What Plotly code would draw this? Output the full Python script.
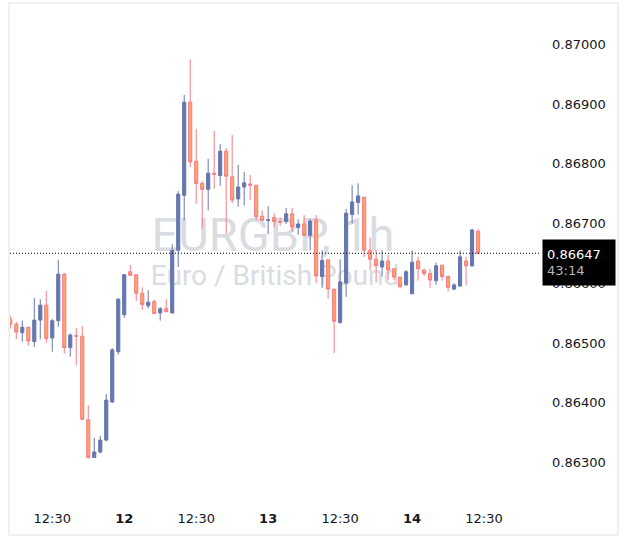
import pandas as pd
import plotly.graph_objects as go

# ---------------- data (EURGBP, 1h) ----------------
start_time = "2024-06-11 05:30"
n_bars = 79

open_ = [0.86537, 0.86528, 0.86514, 0.86523, 0.86499, 0.86535, 0.86560, 0.86505, 0.86534, 0.86612,
         0.86489, 0.86509, 0.86508, 0.86368, 0.86305, 0.86314, 0.86334, 0.86398, 0.86482, 0.86544,
         0.86616, 0.86611, 0.86580, 0.86559, 0.86566, 0.86547, 0.86554, 0.86547, 0.86652, 0.86744,
         0.86900, 0.86801, 0.86764, 0.86754, 0.86781, 0.86777, 0.86818, 0.86775, 0.86738, 0.86758,
         0.86763, 0.86761, 0.86709, 0.86702, 0.86707, 0.86700, 0.86700, 0.86713, 0.86690, 0.86696,
         0.86677, 0.86703, 0.86608, 0.86636, 0.86587, 0.86531, 0.86597, 0.86712, 0.86732, 0.86741,
         0.86652, 0.86637, 0.86624, 0.86634, 0.86621, 0.86607, 0.86594, 0.86579, 0.86634, 0.86619,
         0.86613, 0.86601, 0.86627, 0.86608, 0.86587, 0.86592, 0.86634, 0.86626, 0.86684]
high = [0.86542, 0.86532, 0.86534, 0.86524, 0.86572, 0.86570, 0.86584, 0.86537, 0.86636, 0.86614,
        0.86513, 0.86522, 0.86525, 0.86392, 0.86338, 0.86341, 0.86411, 0.86488, 0.86572, 0.86612,
        0.86627, 0.86611, 0.86590, 0.86585, 0.86569, 0.86557, 0.86570, 0.86662, 0.86751, 0.86912,
        0.86972, 0.86855, 0.86768, 0.86805, 0.86852, 0.86830, 0.86823, 0.86845, 0.86795, 0.86783,
        0.86778, 0.86761, 0.86719, 0.86726, 0.86714, 0.86707, 0.86723, 0.86723, 0.86704, 0.86711,
        0.86704, 0.86711, 0.86652, 0.86636, 0.86587, 0.86637, 0.86721, 0.86761, 0.86764, 0.86741,
        0.86673, 0.86652, 0.86652, 0.86644, 0.86621, 0.86607, 0.86619, 0.86652, 0.86641, 0.86621,
        0.86621, 0.86631, 0.86627, 0.86610, 0.86597, 0.86652, 0.86641, 0.86688, 0.86688]
low = [0.86521, 0.86503, 0.86499, 0.86492, 0.86490, 0.86503, 0.86497, 0.86482, 0.86524, 0.86479,
       0.86474, 0.86459, 0.86367, 0.86303, 0.86304, 0.86312, 0.86332, 0.86396, 0.86477, 0.86539,
       0.86610, 0.86567, 0.86552, 0.86555, 0.86546, 0.86534, 0.86549, 0.86546, 0.86624, 0.86702,
       0.86791, 0.86730, 0.86688, 0.86719, 0.86755, 0.86760, 0.86680, 0.86731, 0.86725, 0.86727,
       0.86736, 0.86702, 0.86702, 0.86679, 0.86690, 0.86693, 0.86696, 0.86683, 0.86678, 0.86675,
       0.86652, 0.86597, 0.86589, 0.86571, 0.86480, 0.86529, 0.86574, 0.86697, 0.86712, 0.86641,
       0.86619, 0.86598, 0.86608, 0.86602, 0.86602, 0.86588, 0.86593, 0.86579, 0.86601, 0.86609,
       0.86589, 0.86594, 0.86601, 0.86583, 0.86585, 0.86591, 0.86593, 0.86624, 0.86645]
close = [0.86528, 0.86515, 0.86523, 0.86500, 0.86535, 0.86560, 0.86504, 0.86534, 0.86612, 0.86489,
         0.86510, 0.86508, 0.86369, 0.86305, 0.86314, 0.86334, 0.86401, 0.86485, 0.86570, 0.86611,
         0.86610, 0.86580, 0.86561, 0.86565, 0.86546, 0.86554, 0.86549, 0.86652, 0.86746, 0.86900,
         0.86800, 0.86764, 0.86754, 0.86781, 0.86779, 0.86818, 0.86776, 0.86736, 0.86758, 0.86765,
         0.86761, 0.86708, 0.86702, 0.86703, 0.86700, 0.86699, 0.86713, 0.86691, 0.86696, 0.86677,
         0.86701, 0.86609, 0.86635, 0.86587, 0.86533, 0.86599, 0.86714, 0.86733, 0.86743, 0.86652,
         0.86637, 0.86626, 0.86634, 0.86619, 0.86607, 0.86591, 0.86616, 0.86632, 0.86621, 0.86613,
         0.86602, 0.86626, 0.86608, 0.86590, 0.86594, 0.86641, 0.86626, 0.86686, 0.86647]

last_price = 0.86647
countdown = "43:14"
title_text = "EURGBP, 1h"
subtitle_text = "Euro / British Pound"

tick_times = ["2024-06-11 12:30", "2024-06-12 00:30", "2024-06-12 12:30", "2024-06-13 00:30",
              "2024-06-13 12:30", "2024-06-14 00:30", "2024-06-14 12:30"]
tick_text = ["12:30", "<b>12</b>", "12:30", "<b>13</b>", "12:30", "<b>14</b>", "12:30"]
price_ticks = [0.863, 0.864, 0.865, 0.866, 0.867, 0.868, 0.869, 0.870]

times = pd.date_range(start_time, periods=n_bars, freq="h")

# ---------------- styling ----------------
W, H = 629, 551
ML, MR, MT, MB = 10, 89, 4, 48
UP = "#6677ad"
DN_FILL = "#faa46e"
DN_LINE = "#f67c84"
FONT = "DejaVu Sans"
TXT = "#131722"

fig = go.Figure(go.Candlestick(
    x=times, open=open_, high=high, low=low, close=close,
    increasing=dict(fillcolor=UP, line=dict(color=UP, width=1)),
    decreasing=dict(fillcolor=DN_FILL, line=dict(color=DN_LINE, width=1)),
    whiskerwidth=0, showlegend=False, hoverinfo="skip",
))

t0 = times[0]
x_range = [t0 - pd.Timedelta(minutes=3), t0 + pd.Timedelta(hours=88.33)]

plot_h = H - MT - MB
px_per_unit = 59700.0
y_top = 0.870 + (42.5 - MT) / px_per_unit
y_bot = y_top - plot_h / px_per_unit

def px_x(p):
    return (p - ML) / (W - ML - MR)

def px_y(p):
    return (H - MB - p) / plot_h

fig.update_layout(
    width=W, height=H,
    margin=dict(l=ML, r=MR, t=MT, b=MB),
    paper_bgcolor="white", plot_bgcolor="white",
    font=dict(family=FONT, size=13, color=TXT),
    boxgap=0.25,
    xaxis=dict(type="date", range=x_range, rangeslider=dict(visible=False),
               tickvals=tick_times, ticktext=tick_text, showgrid=False, zeroline=False,
               showline=False, ticks="", ticklabelstandoff=6,
               tickfont=dict(family=FONT, size=13, color=TXT)),
    yaxis=dict(side="right", range=[y_bot, y_top], tickvals=price_ticks,
               tickformat=".5f", showgrid=False, zeroline=False, showline=False, ticks="",
               ticklabelstandoff=11, ticklabelshift=2,
               tickfont=dict(family=FONT, size=13, color=TXT)),
    shapes=[
        # watermark (below candles)
        dict(type="rect", xref="paper", yref="paper", x0=px_x(98), x1=px_x(448),
             y0=px_y(255), y1=px_y(207), line=dict(width=0), fillcolor="rgba(0,0,0,0)",
             layer="below",
             label=dict(text=title_text, textposition="middle center",
                        font=dict(family="Roboto", size=47, color="#dadce2"))),
        dict(type="rect", xref="paper", yref="paper", x0=px_x(100), x1=px_x(450),
             y0=px_y(288), y1=px_y(258), line=dict(width=0), fillcolor="rgba(0,0,0,0)",
             layer="below",
             label=dict(text=subtitle_text, textposition="middle center",
                        font=dict(family="Roboto", size=28, color="#dadce2"))),
        # last price line
        dict(type="line", xref="paper", yref="y", x0=0, x1=1, y0=last_price, y1=last_price,
             line=dict(color="black", width=1, dash="1px,2px"), layer="above"),
        # frame
        dict(type="rect", xref="paper", yref="paper", x0=px_x(9), x1=px_x(618),
             y0=px_y(535), y1=px_y(3), line=dict(color="#eff0f2", width=2),
             fillcolor="rgba(0,0,0,0)", layer="below"),
    ],
    annotations=[
        dict(xref="paper", yref="y", x=1, y=last_price, xanchor="left", yanchor="middle",
             xshift=2, yshift=-9, showarrow=False, align="left", bgcolor="black",
             width=64, height=37, borderpad=4,
             text=f"<span style='color:white'>{last_price:.5f}</span><br>"
                  f"<span style='color:#b2b5be'>{countdown}</span>",
             font=dict(family=FONT, size=13, color="white")),
    ],
)

fig.write_html("out.html")
